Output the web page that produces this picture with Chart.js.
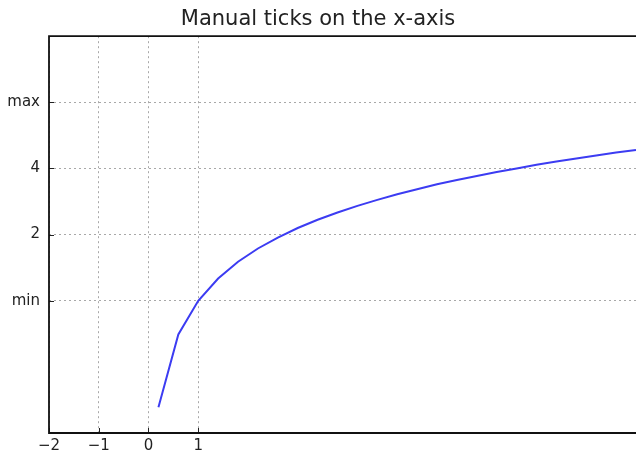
<!DOCTYPE html>
<html><head><meta charset="utf-8">
<script src="https://cdn.jsdelivr.net/npm/chart.js@4"></script>
<style>html,body{margin:0;padding:0;background:#fff;}#wrap{width:636px;height:458px;}</style>
</head><body><div id="wrap"><canvas id="c" width="636" height="458"></canvas></div>
<script>
const chartTitle = "Manual ticks on the x-axis";
const xValues = [0.2,0.6,1.0,1.4,1.8,2.2,2.6,3.0,3.4,3.8,4.2,4.6,5.0,5.4,5.8,6.2,6.6,7.0,7.4,7.8,8.2,8.6,9.0,9.4,9.8];
const yValues = [-3.22,-1.02,0.00,0.67,1.18,1.58,1.91,2.20,2.45,2.67,2.87,3.05,3.22,3.37,3.52,3.65,3.77,3.89,4.00,4.11,4.21,4.30,4.39,4.48,4.56];
const xTickValues = [-2,-1,0,1];
const xTickLabels = ["\u22122","\u22121","0","1"];
const yTickValues = [0,2,4,6];
const yTickLabels = ["min","2","4","max"];

const frame = {
  id:'frame',
  afterDatasetsDraw(chart){
    const {ctx, chartArea:a, scales:{x,y}} = chart;
    ctx.save();
    ctx.strokeStyle='#222'; ctx.lineWidth=1;
    ctx.beginPath();
    xTickValues.forEach(v=>{const p=Math.round(x.getPixelForValue(v))+0.5; ctx.moveTo(p,a.bottom); ctx.lineTo(p,a.bottom-5);});
    yTickValues.forEach(v=>{const p=Math.round(y.getPixelForValue(v))+0.5; ctx.moveTo(a.left,p); ctx.lineTo(a.left+5,p);});
    ctx.stroke();
    ctx.strokeStyle='#111'; ctx.lineWidth=1.8;
    ctx.beginPath();
    ctx.moveTo(a.right+5,a.top); ctx.lineTo(a.left,a.top); ctx.lineTo(a.left,a.bottom); ctx.lineTo(a.right+5,a.bottom);
    ctx.stroke();
    ctx.restore();
  }
};

new Chart(document.getElementById('c'), {
  type:'line',
  data:{datasets:[{data:xValues.map((v,i)=>({x:v,y:yValues[i]})), borderColor:'#3c3cf2', borderWidth:2, pointRadius:0, tension:0, fill:false}]},
  options:{
    responsive:false, animation:false,
    layout:{padding:{left:0,right:0,top:0,bottom:0}},
    plugins:{legend:{display:false}, tooltip:{enabled:false},
      title:{display:true, text:chartTitle, color:'#222', font:{family:'DejaVu Sans', size:21, weight:'normal'}, padding:{top:7,bottom:4}}},
    scales:{
      x:{type:'linear', min:-2, max:9.8,
        afterBuildTicks(s){s.ticks = xTickValues.map(v=>({value:v}));},
        afterFit(s){s.height=25;},
        grid:{color:'#a8a8a8', lineWidth:1, drawTicks:false},
        border:{display:false, dash:[2,3]},
        ticks:{padding:4, color:'#222', font:{family:'DejaVu Sans', size:15}, maxRotation:0, autoSkip:false,
          callback:(v)=>xTickLabels[xTickValues.indexOf(v)]}},
      y:{type:'linear', min:-4, max:8,
        afterBuildTicks(s){s.ticks = yTickValues.map(v=>({value:v}));},
        afterFit(s){s.width=49;},
        grid:{color:'#a8a8a8', lineWidth:1, drawTicks:false},
        border:{display:false, dash:[2,3]},
        ticks:{padding:9, color:'#222', font:{family:'DejaVu Sans', size:15}, autoSkip:false,
          callback:(v)=>yTickLabels[yTickValues.indexOf(v)]}}
    }
  },
  plugins:[frame]
});
</script></body></html>
